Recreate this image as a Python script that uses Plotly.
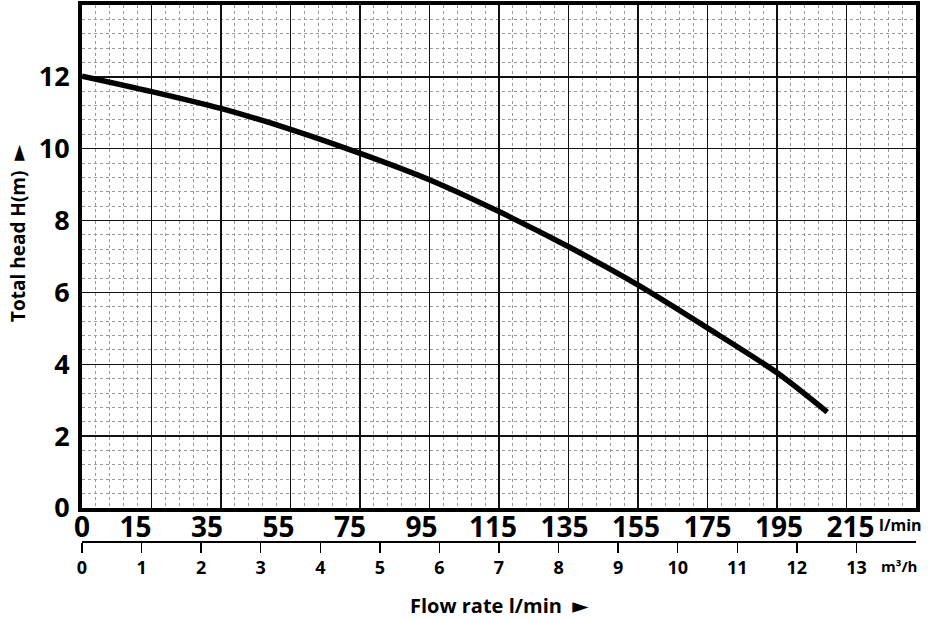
import plotly.graph_objects as go

# ---- data ----
flow_m3h = [0.0, 1.17, 2.33, 3.50, 4.67, 5.84, 7.00, 8.17, 9.33, 10.51, 11.68, 12.51]
head_m = [12.02, 11.59, 11.12, 10.54, 9.87, 9.13, 8.25, 7.27, 6.21, 5.00, 3.75, 2.67]
lpm_ticks = [0, 15, 35, 55, 75, 95, 115, 135, 155, 175, 195, 215]
m3h_ticks = list(range(0, 14))
head_ticks = [0, 2, 4, 6, 8, 10, 12]

X_MAX = 14.0          # m3/h
Y_MAX = 14.0          # m
LPM_PER_M3H = 1000 / 60

FONT = "Open Sans"
W, H = 931, 619
ML, MR, MT, MB = 82, 15, 5, 0
plot_h = H - MT - MB
y_bottom_px = 508


def px_to_paper_y(py):
    return (H - MB - py) / plot_h


def px_to_paper_x(px):
    return (px - ML) / (W - ML - MR)


fig = go.Figure()
fig.add_trace(go.Scatter(
    x=flow_m3h, y=head_m, mode="lines",
    line=dict(color="black", width=5.5, shape="spline", smoothing=0.8),
    hoverinfo="skip", showlegend=False,
))

fig.update_layout(
    width=W, height=H,
    margin=dict(l=ML, r=MR, t=MT, b=MB, autoexpand=False),
    paper_bgcolor="white", plot_bgcolor="white",
    font=dict(family=FONT, color="black"),
    xaxis=dict(
        range=[0, X_MAX], tick0=0, dtick=X_MAX / 12,
        showticklabels=False, ticks="", automargin=False,
        showgrid=True, gridcolor="#111", gridwidth=1.5,
        minor=dict(tick0=0, dtick=X_MAX / 60, showgrid=True, gridcolor="#9a9a9a",
                   griddash="dot", gridwidth=1),
        showline=True, linecolor="black", linewidth=4, mirror=True,
        zeroline=False, fixedrange=True,
    ),
    xaxis2=dict(
        overlaying="x", anchor="free", position=px_to_paper_y(541), side="bottom",
        range=[0, X_MAX], tickvals=m3h_ticks, ticktext=[str(v) for v in m3h_ticks],
        ticks="outside", ticklen=10, tickwidth=1.5, tickcolor="black",
        showline=True, linecolor="black", linewidth=1.5, automargin=False,
        showgrid=False, zeroline=False,
        tickfont=dict(family=FONT, size=18, color="black", weight="bold"),
    ),
    xaxis3=dict(
        overlaying="x", anchor="y", side="bottom",
        range=[0, X_MAX * LPM_PER_M3H], tickvals=lpm_ticks,
        ticktext=[str(v) for v in lpm_ticks], automargin=False,
        ticks="", showline=False, showgrid=False, zeroline=False,
        ticklabelstandoff=0,
        tickfont=dict(family=FONT, size=28, color="black", weight="bold"),
    ),
    yaxis=dict(
        domain=[px_to_paper_y(y_bottom_px), 1],
        range=[0, Y_MAX], tickvals=head_ticks,
        ticktext=[str(v) for v in head_ticks],
        ticks="", ticklabelstandoff=3, automargin=False,
        tickfont=dict(family=FONT, size=27, color="black", weight="bold"),
        showgrid=True, gridcolor="#111", gridwidth=1.5,
        minor=dict(tick0=0, dtick=0.4, showgrid=True, gridcolor="#9a9a9a",
                   griddash="dot", gridwidth=1),
        showline=True, linecolor="black", linewidth=4, mirror=True,
        zeroline=False, fixedrange=True,
    ),
)

# dummy traces to activate overlay axes
fig.add_trace(go.Scatter(x=[None], y=[None], xaxis="x2", showlegend=False, hoverinfo="skip"))
fig.add_trace(go.Scatter(x=[None], y=[None], xaxis="x3", showlegend=False, hoverinfo="skip"))

bold = dict(family=FONT, color="black", weight="bold")
ARROW = "<span style='font-family:DejaVu Sans;font-size:21px'>►</span>"
common = dict(xref="paper", yref="paper", showarrow=False,
              xanchor="center", yanchor="middle")
fig.add_annotation(text="l/min", x=px_to_paper_x(900), y=px_to_paper_y(525),
                   font=dict(size=16, **bold), **common)
fig.add_annotation(text="m³/h", x=px_to_paper_x(899), y=px_to_paper_y(566),
                   font=dict(size=15, **bold), **common)
fig.add_annotation(text="Flow rate l/min  " + ARROW,
                   x=px_to_paper_x(499), y=px_to_paper_y(605),
                   font=dict(size=20, **bold), **common)
fig.add_annotation(text="Total head H(m)  " + ARROW,
                   x=px_to_paper_x(18), y=px_to_paper_y(233), textangle=-90,
                   font=dict(size=19, **bold), **common)

fig.write_html(
    "out.html",
    config={"displayModeBar": False, "staticPlot": True},
    post_script="document.body.style.margin='0';document.body.style.overflow='hidden';",
)
